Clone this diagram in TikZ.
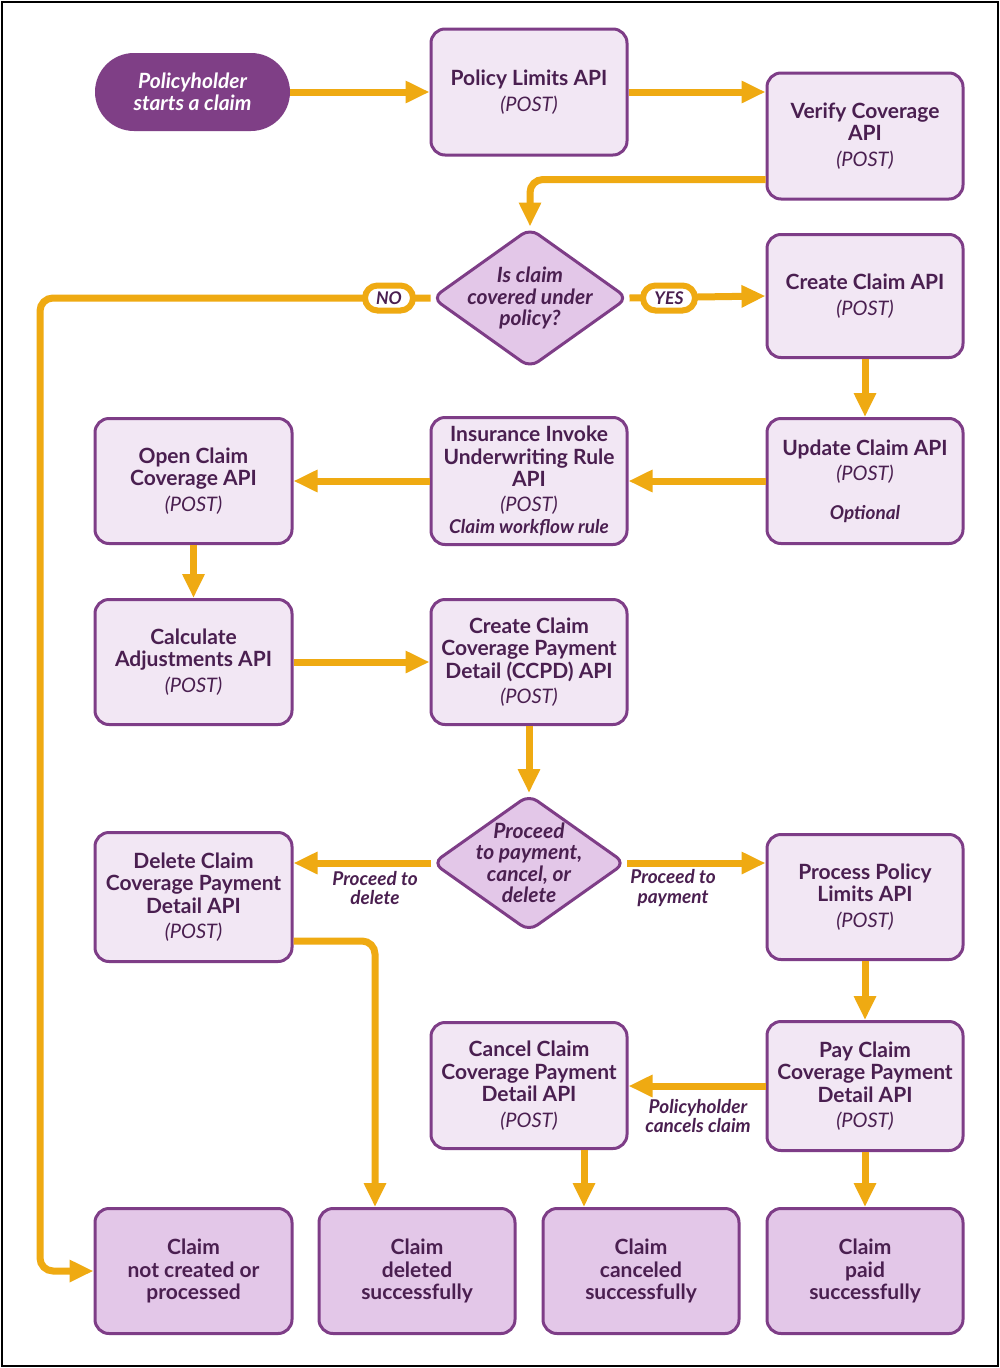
\documentclass[tikz,border=0pt]{standalone}
\usepackage{fontspec}
\setmainfont{Lato}
\usetikzlibrary{arrows.meta,shapes.geometric,calc}
\definecolor{ink}{HTML}{4A1F50}
\definecolor{edge}{HTML}{7E3D87}
\definecolor{boxfill}{HTML}{F2E7F4}
\definecolor{endfill}{HTML}{E3C7E8}
\definecolor{startfill}{HTML}{7F3F86}
\definecolor{flow}{HTML}{EFAA12}
\begin{document}
\begin{tikzpicture}[x=1pt,y=-1pt,
  apibox/.style={draw=edge, line width=3pt, fill=boxfill, rounded corners=14pt,
    minimum width=196pt, minimum height=125pt, align=center, text=ink, inner sep=0pt,
    font=\fontsize{21}{22.5}\selectfont},
  endbox/.style={apibox, fill=endfill},
  decision/.style={diamond, draw=edge, line width=3pt, fill=endfill, rounded corners=10pt,
    inner sep=0pt, minimum width=196pt, minimum height=140pt},
  dtext/.style={align=center, text=ink, font=\fontsize{21}{21.5}\selectfont\bfseries\itshape},
  conn/.style={draw=flow, line width=7pt, rounded corners=13pt,
    -{Triangle[length=24pt,width=21pt]}},
  pill/.style={draw=flow, line width=6pt, fill=white, rounded corners=12.5pt,
    minimum width=48pt, minimum height=25pt, inner sep=0pt, text=ink,
    font=\fontsize{17.5}{18}\selectfont\bfseries\itshape},
  elabel/.style={align=center, text=ink, font=\fontsize{19}{19.5}\selectfont\bfseries\itshape}]
\newcommand{\apititle}[1]{{\bfseries #1}}
\newcommand{\post}{{\fontsize{20}{22.5}\selectfont\itshape (POST)}}
\newcommand{\note}[1]{{\fontsize{19}{20}\selectfont\bfseries\itshape #1}}

\draw[black, line width=2.5pt, fill=white] (2,2) rectangle (998,1366);
\useasboundingbox (0,0) rectangle (1000,1368);

% nodes
\node[fill=startfill, rounded corners=39pt, minimum width=195pt, minimum height=78pt,
  align=center, text=white, inner sep=0pt, font=\fontsize{21}{22.5}\selectfont\bfseries\itshape]
  (start) at (192.5,92) {Policyholder\\starts a claim};
\node[apibox, minimum height=126pt] (plim) at (529,92) {\apititle{Policy Limits API}\\[3pt]\post};
\node[apibox, minimum height=126pt] (verify) at (865,136) {\apititle{Verify Coverage}\\\apititle{API}\\[3pt]\post};
\node[decision] (d1) at (530,298) {};
\node[dtext] (d1t) at (d1.center) {Is claim\\covered under\\policy?};
\node[apibox, minimum height=123pt] (create) at (865,296) {\apititle{Create Claim API}\\[3pt]\post};
\node[apibox] (update) at (865,481) {\apititle{Update Claim API}\\[3pt]\post\\[16pt]\note{Optional}};
\node[apibox, minimum height=127pt] (insur) at (529,481) {\apititle{Insurance Invoke}\\\apititle{Underwriting Rule}\\\apititle{API}\\[2pt]\post\\[0pt]\note{Claim workflow rule}};
\node[apibox, minimum width=197pt] (open) at (193.5,481) {\apititle{Open Claim}\\\apititle{Coverage API}\\[3pt]\post};
\node[apibox, minimum width=197pt] (calc) at (193.5,662) {\apititle{Calculate}\\\apititle{Adjustments API}\\[3pt]\post};
\node[apibox] (ccpd) at (529,662) {\apititle{Create Claim}\\\apititle{Coverage Payment}\\\apititle{Detail (CCPD) API}\\[3pt]\post};
\node[decision, minimum width=193pt, minimum height=137pt] (d2) at (529,863) {};
\node[dtext] (d2t) at (d2.center) {Proceed\\to payment,\\cancel, or\\delete};
\node[apibox, minimum width=197pt, minimum height=129pt] (del) at (193.5,897) {\apititle{Delete Claim}\\\apititle{Coverage Payment}\\\apititle{Detail API}\\[3pt]\post};
\node[apibox] (proc) at (865,897) {\apititle{Process Policy}\\\apititle{Limits API}\\[3pt]\post};
\node[apibox, minimum height=126pt] (cancel) at (529,1085.5) {\apititle{Cancel Claim}\\\apititle{Coverage Payment}\\\apititle{Detail API}\\[3pt]\post};
\node[apibox, minimum height=129pt] (pay) at (865,1086) {\apititle{Pay Claim}\\\apititle{Coverage Payment}\\\apititle{Detail API}\\[3pt]\post};
\node[endbox, minimum width=197pt] (notc) at (193.5,1271) {\apititle{Claim}\\\apititle{not created or}\\\apititle{processed}};
\node[endbox] (deld) at (417,1271) {\apititle{Claim}\\\apititle{deleted}\\\apititle{successfully}};
\node[endbox] (canc) at (641,1271) {\apititle{Claim}\\\apititle{canceled}\\\apititle{successfully}};
\node[endbox] (paid) at (865,1271) {\apititle{Claim}\\\apititle{paid}\\\apititle{successfully}};

% connectors
\draw[conn] (start.east) -- (plim.west);
\draw[conn] (plim.east) -- (plim.east -| verify.west);
\draw[conn] ([yshift=21pt]verify.south west) -| (d1.north);
\draw[conn] (d1.east) -- (create.west);
\draw[conn] (d1.west) -- (40,298) -- (40,1271) -- (notc.west);
\draw[conn] (create.south) -- (update.north);
\draw[conn] (update.west) -- (insur.east);
\draw[conn] (insur.west) -- (open.east);
\draw[conn] (open.south) -- (calc.north);
\draw[conn] (calc.east) -- (ccpd.west);
\draw[conn] (ccpd.south) -- (d2.north);
\draw[conn] (d2.west) -- (d2.west -| del.east);
\draw[conn] (d2.east) -- (d2.east -| proc.west);
\draw[conn] ([yshift=22pt]del.south east) -| ([xshift=-42pt]deld.north);
\draw[conn] (proc.south) -- (pay.north);
\draw[conn] (pay.west) -- (pay.west -| cancel.east);
\draw[conn] ([xshift=55pt]cancel.south) -- ([xshift=55pt]cancel.south |- canc.north);
\draw[conn] (pay.south) -- (paid.north);

% labels
\node[pill] (no) at (389,298) {NO};
\node[pill, minimum width=52pt] (yes) at (669,298) {YES};
\node[elabel] (ldel) at (375,888) {Proceed to\\delete};
\node[elabel] (lpay) at (673,888) {Proceed to\\payment};
\node[elabel] (lcan) at (698,1116) {Policyholder\\cancels claim};
\end{tikzpicture}
\end{document}
